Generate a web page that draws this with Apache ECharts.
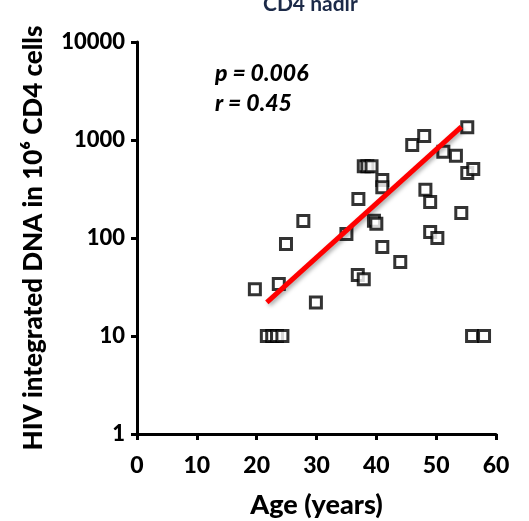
<!DOCTYPE html>
<html>
<head>
<meta charset="utf-8">
<script src="https://cdn.jsdelivr.net/npm/echarts@6/dist/echarts.min.js"></script>
<style>
  html, body { margin: 0; padding: 0; background: #fff; }
  #chart { width: 529px; height: 521px; }
</style>
</head>
<body>
<div id="chart"></div>
<script>
// patients: age (years) vs HIV integrated DNA per 10^6 CD4 cells
const ages = [19.7, 23.7, 24.9, 27.8, 29.9, 35, 37, 36.9, 37.9, 37.9, 38.5, 39.2, 41, 41, 39.6, 40.0, 41, 44,
  46, 48, 48.2, 49, 49, 50.2, 51.2, 53.3, 54.2, 55.2, 55.2, 56.2, 21.7, 22.6, 23.4, 24.3, 56, 58];
const dna = [30, 34, 87, 149, 22, 110, 250, 42, 38, 540, 540, 540, 390, 330, 150, 140, 81, 57,
  890, 1100, 310, 233, 115, 100, 760, 690, 180, 1350, 460, 505, 10, 10, 10, 10, 10, 10];
const fitAges = [21.7, 54.2];
const fitDna = [22, 1360];
const xTicks = [0, 10, 20, 30, 40, 50, 60];
const yTicks = [1, 10, 100, 1000, 10000];

const FONT = 'Lato';
const W = 900;
const chart = echarts.init(document.getElementById('chart'));

chart.setOption({
  animation: false,
  grid: { left: 137, right: 33, top: 42, bottom: 87, outerBoundsMode: 'none' },
  xAxis: {
    type: 'value',
    min: xTicks[0],
    max: xTicks[xTicks.length - 1],
    interval: 10,
    name: 'Age (years)',
    nameLocation: 'middle',
    nameGap: 58,
    nameTextStyle: { fontFamily: FONT, fontWeight: W, fontSize: 27, color: '#000' },
    axisLine: { lineStyle: { color: '#000', width: 3 } },
    axisTick: { show: true, length: 6, lineStyle: { color: '#000', width: 3 } },
    axisLabel: { fontFamily: FONT, fontWeight: W, fontSize: 23, color: '#000', margin: 20 },
    splitLine: { show: false }
  },
  yAxis: {
    type: 'log',
    logBase: 10,
    min: yTicks[0],
    max: yTicks[yTicks.length - 1],
    name: 'HIV integrated DNA in 10⁶ CD4 cells',
    nameLocation: 'middle',
    nameRotate: 90,
    nameGap: 90,
    nameTextStyle: { fontFamily: FONT, fontWeight: W, fontSize: 26, color: '#000' },
    axisLine: { show: true, lineStyle: { color: '#000', width: 3 } },
    axisTick: { show: true, length: 6, lineStyle: { color: '#000', width: 3 } },
    axisLabel: {
      fontFamily: FONT, fontWeight: W, fontSize: 22, color: '#000', margin: 12,
      formatter: (v) => String(Math.round(v))
    },
    splitLine: { show: false }
  },
  graphic: [
    { type: 'text', left: 263, top: -6, style: { text: 'CD4 nadir', font: 'bold 21px ' + FONT, fill: '#1c2a48' } },
    { type: 'text', left: 215, top: 62, style: { text: 'p = 0.006', font: 'italic ' + W + ' 23px ' + FONT, fill: '#000' } },
    { type: 'text', left: 215, top: 92, style: { text: 'r = 0.45', font: 'italic ' + W + ' 23px ' + FONT, fill: '#000' } }
  ],
  series: [
    {
      type: 'scatter',
      symbol: 'rect',
      symbolSize: 11,
      itemStyle: { color: '#fff', borderColor: '#000', borderWidth: 3 },
      data: ages.map((a, i) => [a, dna[i]]),
      z: 2
    },
    {
      type: 'line',
      symbol: 'none',
      lineStyle: {
        color: '#ff0000', width: 5,
        shadowColor: 'rgba(0,0,0,0.35)', shadowBlur: 4, shadowOffsetX: 2, shadowOffsetY: 2
      },
      data: fitAges.map((a, i) => [a, fitDna[i]]),
      z: 3
    }
  ]
});
</script>
</body>
</html>
